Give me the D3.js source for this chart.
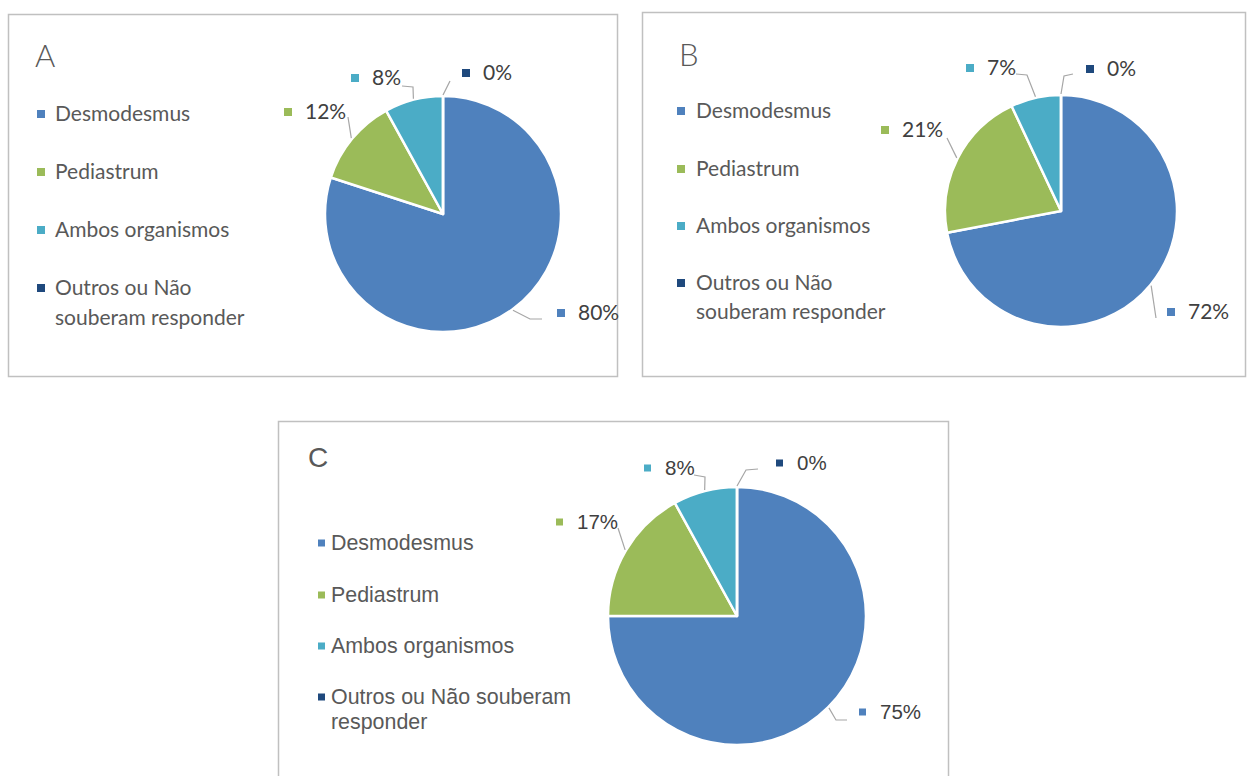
<!DOCTYPE html>
<html>
<head>
<meta charset="utf-8">
<script src="https://cdn.jsdelivr.net/npm/d3@7/dist/d3.min.js"></script>
<style>
  body { margin: 0; background: #fff; }
  svg { display: block; }
</style>
</head>
<body>
<svg id="chart" width="1249" height="776"></svg>
<script>
// categories shared by all three charts
const categories = ["Desmodesmus", "Pediastrum", "Ambos organismos", "Outros ou Não souberam responder"];
const colors = ["#4f81bd", "#9bbb59", "#4bacc6", "#1f497d"];

// percentages per panel (same order as categories)
const valuesA = [80, 12, 8, 0];
const valuesB = [72, 21, 7, 0];
const valuesC = [75, 17, 8, 0];

// layout only: boxes, pie placement, legend and label positions
const panels = [
  {
    title: "A", values: valuesA,
    box: [8, 14, 609, 362], titlePos: [35, 67],
    font: "Lato, 'Open Sans', sans-serif", fs: 21, labFs: 21, titleFs: 31, mk: 8,
    pie: [443, 214, 118],
    legend: { x: 37, tx: 55, rows: [114, 172, 230, 288], lineH: 30,
              lines: [["Desmodesmus"], ["Pediastrum"], ["Ambos organismos"], ["Outros ou Não", "souberam responder"]] },
    // label: text x, text center y, knee points of the leader
    labels: [
      { tx: 578, ty: 313, knee: [[530, 319], [542, 319]] },
      { tx: 305, ty: 112, knee: [[348, 117]] },
      { tx: 372, ty: 78, knee: [[413, 87], [402, 86]] },
      { tx: 483, ty: 73, knee: [[450, 81]] }
    ]
  },
  {
    title: "B", values: valuesB,
    box: [642, 12, 603, 364], titlePos: [679, 66],
    font: "Lato, 'Open Sans', sans-serif", fs: 21, labFs: 21, titleFs: 31, mk: 8,
    pie: [1061, 211, 116],
    legend: { x: 677, tx: 696, rows: [111, 169, 226, 283], lineH: 29,
              lines: [["Desmodesmus"], ["Pediastrum"], ["Ambos organismos"], ["Outros ou Não", "souberam responder"]] },
    labels: [
      { tx: 1188, ty: 312, knee: [[1156, 318]] },
      { tx: 902, ty: 130, knee: [[947, 138]] },
      { tx: 987, ty: 68, knee: [[1027, 75], [1016, 74]] },
      { tx: 1107, ty: 69, knee: [[1064, 76], [1073, 74]] }
    ]
  },
  {
    title: "C", values: valuesC,
    box: [278, 421, 670, 380], titlePos: [308, 467],
    font: "'Liberation Sans', Arial, sans-serif", fs: 21.4, labFs: 20.5, titleFs: 28, mk: 7,
    pie: [737, 616, 129],
    legend: { x: 318, tx: 331, rows: [543, 595, 646, 697], lineH: 25,
              lines: [["Desmodesmus"], ["Pediastrum"], ["Ambos organismos"], ["Outros ou Não souberam", "responder"]] },
    labels: [
      { tx: 880, ty: 712, knee: [[836, 720], [847, 720]] },
      { tx: 577, ty: 522, knee: [[618, 528]] },
      { tx: 665, ty: 468, knee: [[705, 477], [694, 475]] },
      { tx: 797, ty: 463, knee: [[746, 470], [758, 469]] }
    ]
  }
];

const svg = d3.select("#chart");

panels.forEach(p => drawPanel(p));

function drawPanel(p) {
  let g = svg.append("g");

  // outer frame
  g.append("rect")
    .attr("x", p.box[0] + 0.5).attr("y", p.box[1] + 0.5)
    .attr("width", p.box[2]).attr("height", p.box[3])
    .attr("fill", "#fff")
    .attr("stroke", "#c0c0c0")
    .attr("stroke-width", 1.5);

  // panel letter
  g.append("text")
    .attr("x", p.titlePos[0]).attr("y", p.titlePos[1])
    .attr("font-family", p.font)
    .attr("font-weight", 300)
    .attr("font-size", p.titleFs)
    .attr("fill", "#595959")
    .text(p.title);

  // legend
  let leg = g.append("g").attr("class", "legend");
  categories.forEach((c, i) => {
    let cy = p.legend.rows[i];
    leg.append("rect")
      .attr("x", p.legend.x).attr("y", cy - p.mk / 2)
      .attr("width", p.mk).attr("height", p.mk)
      .attr("fill", colors[i]);
    p.legend.lines[i].forEach((line, j) => {
      leg.append("text")
        .attr("x", p.legend.tx)
        .attr("y", cy + j * p.legend.lineH)
        .attr("dy", "0.35em")
        .attr("font-family", p.font)
        .attr("font-size", p.fs)
        .attr("fill", "#595959")
        .text(line);
    });
  });

  // pie
  let [cx, cy, r] = p.pie;
  let pie = d3.pie().sort(null).value(d => d);
  let arcs = pie(p.values);
  let arc = d3.arc().innerRadius(0).outerRadius(r);

  let pg = g.append("g").attr("transform", `translate(${cx},${cy})`);
  pg.selectAll("path")
    .data(arcs)
    .join("path")
    .attr("d", arc)
    .attr("fill", (d, i) => colors[i])
    .attr("stroke", "#fff")
    .attr("stroke-width", 2.5)
    .attr("stroke-linejoin", "round");

  // leader lines and percentage labels
  arcs.forEach((a, i) => {
    let lab = p.labels[i];
    let mid = (a.startAngle + a.endAngle) / 2;
    let start = [cx + (r + 1) * Math.sin(mid), cy - (r + 1) * Math.cos(mid)];
    let pts = [start].concat(lab.knee);
    g.append("path")
      .attr("d", d3.line()(pts))
      .attr("fill", "none")
      .attr("stroke", "#a6a6a6")
      .attr("stroke-width", 1.2);

    g.append("rect")
      .attr("x", lab.tx - 21).attr("y", lab.ty - p.mk / 2)
      .attr("width", p.mk).attr("height", p.mk)
      .attr("fill", colors[i]);

    g.append("text")
      .attr("x", lab.tx).attr("y", lab.ty)
      .attr("dy", "0.35em")
      .attr("font-family", p.font)
      .attr("font-size", p.labFs)
      .attr("fill", "#404040")
      .text(d3.format("d")(p.values[i]) + "%");
  });
}
</script>
</body>
</html>
